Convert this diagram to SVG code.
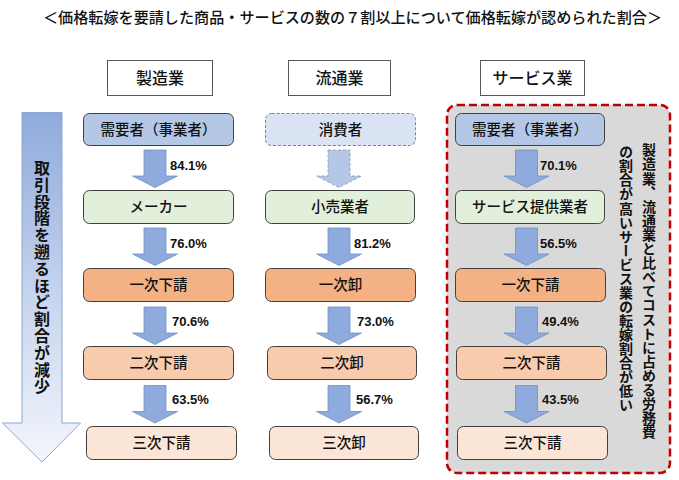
<svg xmlns="http://www.w3.org/2000/svg" width="679" height="480" viewBox="0 0 679 480">
<defs>
<linearGradient id="bigArrowGrad" x1="0" y1="0" x2="0" y2="1">
<stop offset="0" stop-color="#8faadc"/>
<stop offset="0.55" stop-color="#c9d6ee"/>
<stop offset="1" stop-color="#f3f6fb"/>
</linearGradient>
<path id="arr" d="M-11,0 h22 v26 h11.5 L0,37.5 L-22.5,26 H-11 Z"/>
</defs>
<style>
text{font-family:"Noto Sans CJK JP","Noto Sans CJK SC",sans-serif;fill:#111;}
.title{font-size:15px;font-weight:500;}
.hdr rect{fill:#fff;stroke:#595959;stroke-width:1;}
.hdr text{font-size:16px;text-anchor:middle;font-weight:500;}
.node rect{stroke:#404040;stroke-width:1;}
.node text{font-size:14.5px;text-anchor:middle;font-weight:500;}
.c1{fill:#b4c7e7;}
.c1d{fill:#dae3f3;stroke:#7f7f7f !important;stroke-dasharray:3 2;}
.c2{fill:#e2efda;}
.c3{fill:#f4b183;}
.c4{fill:#f8cbad;}
.c5{fill:#fbe5d6;}
.arrow use{fill:#8faadc;stroke:#6f8fc6;stroke-width:0.8;}
.arrow use.dash{fill:#b4c7e7;stroke:#8497b0;stroke-dasharray:3 2;}
.pct{font-family:"Liberation Sans",Arial,sans-serif;font-weight:bold;font-size:13px;}
.vt{writing-mode:vertical-rl;font-weight:bold;}
</style>

<text class="title" x="352.5" y="23" text-anchor="middle" textLength="619" lengthAdjust="spacingAndGlyphs">＜価格転嫁を要請した商品・サービスの数の７割以上について価格転嫁が認められた割合＞</text>

<g id="hdr-seizo" class="hdr"><rect x="107.5" y="60.5" width="105" height="35"/><text x="160" y="84">製造業</text></g>
<g id="hdr-ryutsu" class="hdr"><rect x="288.5" y="60.5" width="102" height="35"/><text x="339.5" y="84">流通業</text></g>
<g id="hdr-service" class="hdr"><rect x="480.5" y="60.5" width="104" height="35"/><text x="532.5" y="84">サービス業</text></g>

<g id="trend-arrow">
<path d="M22,112.5 H62 V423 H80.5 L42,462 L2.5,423 H22 Z" fill="url(#bigArrowGrad)" stroke="#8ea6cf" stroke-width="1"/>
<text class="vt" x="42" y="160" style="font-size:16px;letter-spacing:0.8px">取引段階を遡るほど割合が減少</text>
</g>

<g id="service-panel">
<rect x="447" y="105" width="223" height="368" rx="10" fill="#d9d9d9" stroke="#c00000" stroke-width="2.5" stroke-dasharray="8 4"/>
<text class="vt" x="649" y="143" style="font-size:14px;letter-spacing:0.1px">製造業、流通業と比べてコストに占める労務費</text>
<text class="vt" x="626" y="145" style="font-size:14px;letter-spacing:0.05px">の割合が高いサービス業の転嫁割合が低い</text>
</g>

<g id="connectors" class="arrow">
<use href="#arr" x="155" y="150"/>
<use href="#arr" x="155" y="228"/>
<use href="#arr" x="155" y="307"/>
<use href="#arr" x="155" y="385.5"/>
<use href="#arr" class="dash" x="339" y="150"/>
<use href="#arr" x="339" y="228"/>
<use href="#arr" x="339" y="307"/>
<use href="#arr" x="339" y="385.5"/>
<use href="#arr" x="526.5" y="150"/>
<use href="#arr" x="526.5" y="228"/>
<use href="#arr" x="526.5" y="307"/>
<use href="#arr" x="526.5" y="385.5"/>
<text class="pct" x="170" y="170">84.1%</text>
<text class="pct" x="170" y="248">76.0%</text>
<text class="pct" x="172" y="326">70.6%</text>
<text class="pct" x="172" y="404">63.5%</text>
<text class="pct" x="354" y="248">81.2%</text>
<text class="pct" x="357" y="326">73.0%</text>
<text class="pct" x="356" y="404">56.7%</text>
<text class="pct" x="540" y="170">70.1%</text>
<text class="pct" x="540" y="248">56.5%</text>
<text class="pct" x="542" y="326">49.4%</text>
<text class="pct" x="542" y="404">43.5%</text>
</g>

<g id="m-juyosha" class="node"><rect class="c1" x="83.5" y="113.5" width="150" height="32" rx="6"/><text x="158.5" y="134.5">需要者（事業者）</text></g>
<g id="m-maker" class="node"><rect class="c2" x="83.5" y="190.5" width="150" height="33" rx="6"/><text x="158.5" y="212">メーカー</text></g>
<g id="m-ichiji" class="node"><rect class="c3" x="83.5" y="268.5" width="150" height="33" rx="6"/><text x="158.5" y="290">一次下請</text></g>
<g id="m-niji" class="node"><rect class="c4" x="83.5" y="346.5" width="150" height="33" rx="6"/><text x="158.5" y="368">二次下請</text></g>
<g id="m-sanji" class="node"><rect class="c5" x="86.5" y="426.5" width="150" height="33" rx="6"/><text x="161.5" y="448">三次下請</text></g>

<g id="d-shohisha" class="node"><rect class="c1d" x="265.5" y="113.5" width="150" height="32" rx="6"/><text x="340.5" y="134.5">消費者</text></g>
<g id="d-kouri" class="node"><rect class="c2" x="265.5" y="190.5" width="149" height="33" rx="6"/><text x="340" y="212">小売業者</text></g>
<g id="d-ichiji" class="node"><rect class="c3" x="265.5" y="268.5" width="150" height="33" rx="6"/><text x="340.5" y="290">一次卸</text></g>
<g id="d-niji" class="node"><rect class="c4" x="267.5" y="346.5" width="149" height="33" rx="6"/><text x="342" y="368">二次卸</text></g>
<g id="d-sanji" class="node"><rect class="c5" x="269.5" y="426.5" width="149" height="33" rx="6"/><text x="344" y="448">三次卸</text></g>

<g id="s-juyosha" class="node"><rect class="c1" x="455.5" y="113.5" width="149" height="32" rx="6"/><text x="530" y="134.5">需要者（事業者）</text></g>
<g id="s-provider" class="node"><rect class="c2" x="455.5" y="190.5" width="149" height="33" rx="6"/><text x="530" y="212">サービス提供業者</text></g>
<g id="s-ichiji" class="node"><rect class="c3" x="455.5" y="268.5" width="150" height="33" rx="6"/><text x="530.5" y="290">一次下請</text></g>
<g id="s-niji" class="node"><rect class="c4" x="456.5" y="346.5" width="150" height="33" rx="6"/><text x="531.5" y="368">二次下請</text></g>
<g id="s-sanji" class="node"><rect class="c5" x="457.5" y="426.5" width="150" height="33" rx="6"/><text x="532.5" y="448">三次下請</text></g>
</svg>
